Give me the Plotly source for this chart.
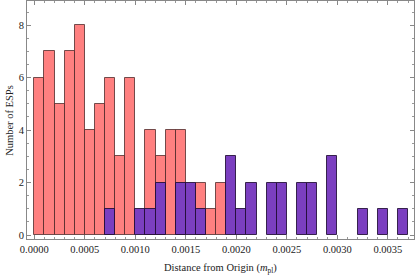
import plotly.graph_objects as go

bin_start = 0.0
bin_width = 0.0001
red_counts = [6, 7, 5, 7, 8, 4, 5, 6, 3, 6, 0, 4, 3, 4, 4, 0, 2, 1, 2]
purple_counts = [0, 0, 0, 0, 0, 0, 0, 1, 0, 0, 1, 1, 2, 0, 2, 2, 1, 0, 0,
                 3, 1, 2, 0, 2, 2, 0, 2, 2, 0, 3, 0, 0, 1, 0, 1, 0, 1]
x_ticks = [0.0, 0.0005, 0.0010, 0.0015, 0.0020, 0.0025, 0.0030, 0.0035]
y_ticks = [0, 2, 4, 6, 8]
x_title = "Distance from Origin (<i>m</i><sub>pl</sub>)"
y_title = "Number of ESPs"


def centers(n):
    return [bin_start + (i + 0.5) * bin_width for i in range(n)]


def clean(vals):
    return [v if v else None for v in vals]


fig = go.Figure()
fig.add_trace(go.Bar(
    x=centers(len(red_counts)), y=clean(red_counts), width=bin_width,
    marker=dict(color="#FF8080", line=dict(color="rgba(70,35,35,0.75)", width=1)),
))
fig.add_trace(go.Bar(
    x=centers(len(purple_counts)), y=clean(purple_counts), width=bin_width,
    marker=dict(color="#7B3FC0", line=dict(color="rgba(30,10,50,0.85)", width=1)),
))

serif = "Liberation Serif, Times New Roman, serif"
font = dict(family=serif, size=10.5, color="#222")
fig.update_layout(
    width=415, height=277,
    margin=dict(l=27, r=1, t=1, b=38),
    barmode="overlay", bargap=0,
    showlegend=False,
    plot_bgcolor="white", paper_bgcolor="white",
    font=font,
    annotations=[
        dict(text=x_title, xref="paper", yref="paper", x=0.5, y=-0.125,
             xanchor="center", yanchor="middle", showarrow=False,
             font=dict(family=serif, size=10.5, color="#222")),
        dict(text=y_title, xref="paper", yref="paper", x=-0.047, y=0.5,
             xanchor="center", yanchor="middle", showarrow=False, textangle=-90,
             font=dict(family=serif, size=10.5, color="#222")),
    ],
)
fig.update_xaxes(
    range=[-0.0000723, 0.003759], automargin=False,
    tickvals=x_ticks, tickformat=".4f",
    ticks="inside", ticklen=4, tickcolor="#888", tickwidth=1,
    minor=dict(dtick=0.0001, ticks="inside", ticklen=2, tickcolor="#999", tick0=0),
    showline=True, linecolor="#888", linewidth=1, mirror="allticks",
    showgrid=False, zeroline=False,
)
fig.update_yaxes(
    range=[-0.15, 8.92], automargin=False,
    tickvals=y_ticks,
    ticks="inside", ticklen=4, tickcolor="#888", tickwidth=1,
    minor=dict(dtick=0.5, ticks="inside", ticklen=2, tickcolor="#999", tick0=0),
    showline=True, linecolor="#888", linewidth=1, mirror="allticks",
    showgrid=False, zeroline=False,
)
fig.write_html("out.html", config={"displayModeBar": False},
               post_script="document.body.style.margin='0';document.body.style.overflow='hidden';")
